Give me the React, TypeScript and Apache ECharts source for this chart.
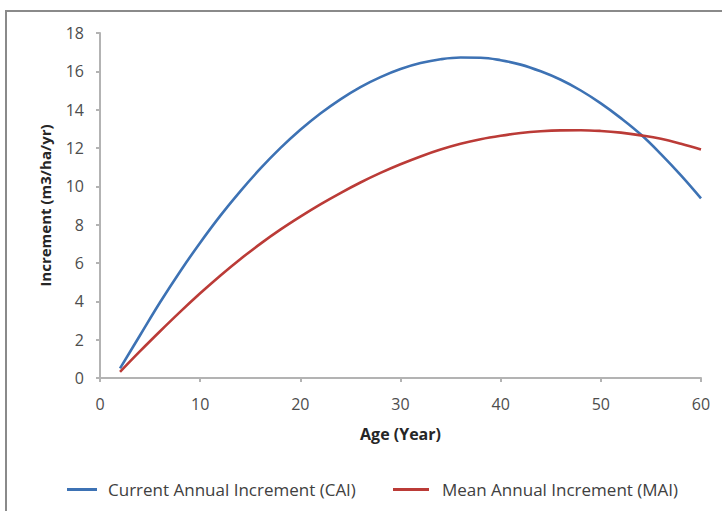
import React, { useEffect, useRef } from "react";
import * as echarts from "echarts";

// Stand age in years
const ages = [2, 4, 6, 8, 10, 12, 14, 16, 18, 20, 22, 24, 26, 28, 30, 32, 34, 36, 38, 40, 42, 44, 46, 48, 50, 52, 54, 56, 58, 60];

// Current Annual Increment (m3/ha/yr)
const cai = [0.5, 2.23, 3.95, 5.56, 7.06, 8.46, 9.74, 10.92, 11.99, 12.95, 13.8, 14.54, 15.18, 15.7, 16.12, 16.43, 16.63, 16.72, 16.71, 16.58, 16.35, 16.0, 15.56, 15.0, 14.33, 13.56, 12.7, 11.68, 10.57, 9.37];

// Mean Annual Increment (m3/ha/yr)
const mai = [0.32, 1.4, 2.44, 3.45, 4.42, 5.34, 6.2, 7.0, 7.74, 8.42, 9.06, 9.65, 10.2, 10.7, 11.15, 11.56, 11.92, 12.22, 12.46, 12.64, 12.78, 12.87, 12.92, 12.93, 12.89, 12.8, 12.66, 12.48, 12.22, 11.92];

const yTicks = [0, 2, 4, 6, 8, 10, 12, 14, 16, 18];
const xTicks = [0, 10, 20, 30, 40, 50, 60];

const caiName = "Current Annual Increment (CAI)";
const maiName = "Mean Annual Increment (MAI)";

const FONT = "'Open Sans', 'Liberation Sans', sans-serif";
const AXIS_GREY = "#b3b3b3";
const LABEL_GREY = "#4d4d4d";

export default function App() {
  const ref = useRef<HTMLDivElement>(null);

  useEffect(() => {
    if (!ref.current) return;
    const chart = echarts.init(ref.current, undefined, { renderer: "svg" });

    const pairs = (ys: number[]) => ages.map((a, i) => [a, ys[i]]);

    const axisStyle = {
      axisLine: { show: true, lineStyle: { color: AXIS_GREY, width: 2 } },
      axisTick: { show: true, inside: false, length: 4, lineStyle: { color: AXIS_GREY, width: 2 } },
      splitLine: { show: false },
    };

    const legendText = { fontFamily: FONT, fontSize: 17, color: "#404040" };

    chart.setOption({
      animation: false,
      backgroundColor: "#ffffff",
      textStyle: { fontFamily: FONT },
      graphic: [
        {
          type: "rect",
          shape: { x: 6, y: 11, width: 800, height: 600 },
          style: { fill: "none", stroke: "#8a8a8a", lineWidth: 2 },
          z: -1,
          silent: true,
        },
      ],
      grid: { left: 100, right: 21, top: 33, bottom: 133, containLabel: false },
      xAxis: {
        type: "value",
        min: xTicks[0],
        max: xTicks[xTicks.length - 1],
        interval: 10,
        name: "Age (Year)",
        nameLocation: "middle",
        nameGap: 48,
        nameTextStyle: { fontFamily: FONT, fontWeight: "bold", fontSize: 16, color: "#262626" },
        axisLabel: { fontFamily: FONT, fontSize: 16, color: LABEL_GREY, margin: 18 },
        ...axisStyle,
      },
      yAxis: {
        type: "value",
        min: yTicks[0],
        max: yTicks[yTicks.length - 1],
        interval: 2,
        name: "Increment (m3/ha/yr)",
        nameLocation: "middle",
        nameGap: 48,
        nameRotate: 90,
        nameTextStyle: { fontFamily: FONT, fontWeight: "bold", fontSize: 15, color: "#262626" },
        axisLabel: { fontFamily: FONT, fontSize: 16, color: LABEL_GREY, margin: 16 },
        ...axisStyle,
      },
      legend: [
        {
          data: [{ name: caiName, icon: "rect" }],
          left: 67,
          top: 481,
          padding: 0,
          itemWidth: 30,
          itemHeight: 3,
          textStyle: { ...legendText, padding: [0, 0, 0, 6] },
        },
        {
          data: [{ name: maiName, icon: "rect" }],
          left: 393,
          top: 481,
          padding: 0,
          itemWidth: 36,
          itemHeight: 3,
          textStyle: { ...legendText, padding: [0, 0, 0, 8] },
        },
      ],
      series: [
        {
          name: caiName,
          type: "line",
          data: pairs(cai),
          smooth: 0.4,
          showSymbol: false,
          lineStyle: { color: "#3d72b4", width: 2.6 },
          itemStyle: { color: "#3d72b4" },
        },
        {
          name: maiName,
          type: "line",
          data: pairs(mai),
          smooth: 0.4,
          showSymbol: false,
          lineStyle: { color: "#bb3b37", width: 2.6 },
          itemStyle: { color: "#bb3b37" },
        },
      ],
    });

    return () => chart.dispose();
  }, []);

  return (
    <div
      ref={ref}
      style={{ position: "fixed", left: 0, top: 0, width: 722, height: 511 }}
    />
  );
}
